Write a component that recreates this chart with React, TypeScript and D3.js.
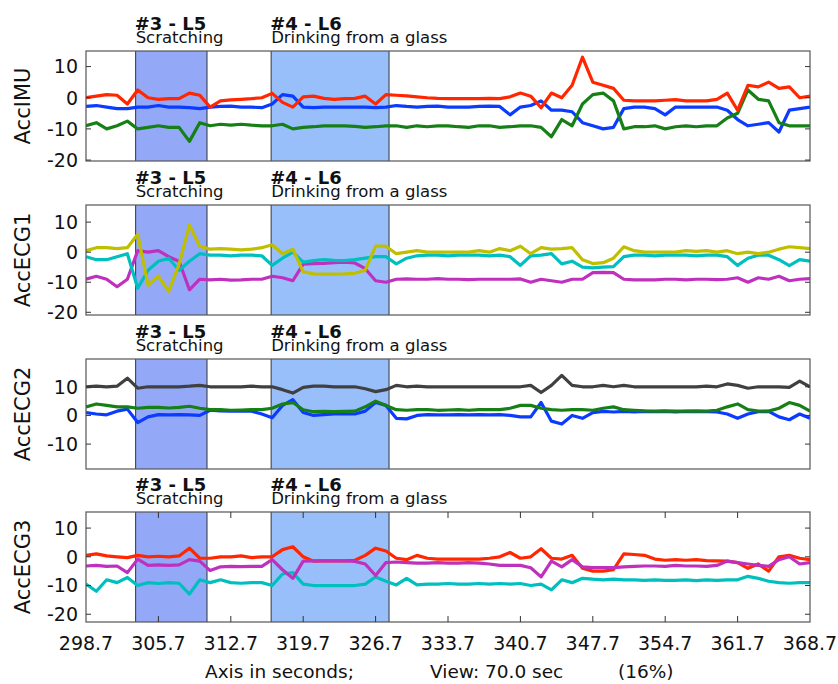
import React from 'react';
import * as d3 from 'd3';

// sampled once per second from 298.7 s to 368.7 s
const t0 = 298.7;
const viewSec = 70;

const imuRed = [0, 0.5, 1, 0.8, -2, 2.5, 0, -0.5, -0.3, -0.3, 1.5, 0.8, -3, -1, -0.7, -0.5, -0.3, 0, 1.4, -1.5, -3, 0.3, 0.5, -0.2, -0.5, -0.3, -0.2, 0.5, -2, 1, 0.8, 0.6, 0.3, 0, -0.2, -0.3, -0.3, -0.3, -0.3, -0.2, -0.3, 0.3, 1.5, 0.5, -3.2, 1.5, 0, 4, 13, 5, 4, 3, -0.8, -1, -1, -1, -0.8, -0.6, -1, -1, -1, -0.5, 1.5, -4, 4, 3.5, 5, 3, 3.5, 0, 0.5];
const imuBlue = [-2.8, -2.5, -3, -3.5, -3.5, -3, -3, -2.5, -3, -3, -3.2, -3.5, -3, -2.8, -2.7, -3, -3, -3.2, -2, 1, 0.5, -3, -3.2, -3, -3, -3, -3, -3, -3.2, -3, -2.5, -2.8, -3, -2.8, -2.7, -3, -3, -3, -2.8, -2.7, -2.8, -5.5, -3, -2.5, -1, -4, -4, -4.5, -8, -9, -10, -9.5, -3.5, -3, -3, -3.5, -5.5, -3, -3, -3, -3, -3, -4, -7, -9, -8.5, -8, -11, -4, -3.5, -3];
const imuGreen = [-9, -8, -10, -9, -7.5, -10, -9.5, -9, -9.5, -9.5, -14, -8, -9, -8.5, -8.8, -8.5, -8.8, -9, -9, -8.5, -10, -9.5, -9.3, -9, -9, -9, -9.2, -9.5, -9.3, -9, -9, -9.5, -9, -9.3, -9, -9, -9.3, -9.5, -9, -9, -9.5, -9.3, -9, -9, -9.5, -12.5, -7, -9, -2, 1, 1.5, -1, -10, -9.3, -9.3, -9, -10, -9.3, -9, -9.3, -9, -9, -6.5, -5, 2.5, -0.5, -1, -8, -9, -9, -9];

const ecg1Yellow = [0.5, 1.5, 1.5, 1.2, 1.5, 6, -11, -8, -13, -4, 9, 2, 1, 1.2, 1, 0.8, 1, 1.5, 2.5, -0.5, 1, -6.5, -7.2, -7.3, -7.3, -7.2, -7, -6, 2, 2, -0.5, 0, 0.5, 0, 0, 0, 0, 0, 0.5, 0, 1.2, 0.5, 2, -0.5, 1.5, 1, 1.2, 1.5, -2.5, -3.8, -3.5, -2, 1.8, 0.5, 0, 0, 0, 0, 0.5, 0.3, 0.5, 0, 0.5, -0.5, 0, -0.5, 0, 1, 1.8, 1.5, 1.2];
const ecg1Cyan = [-1.5, -2.5, -2.5, -1.5, -0.5, -12, -6, -3, -2, -6, -3, -0.5, -1, -1, -1.2, -1, -1, -1.2, -4.4, -2, 0, -3.3, -2.8, -2.5, -2.7, -2.8, -2.5, -2, -1.5, -1.5, -3.9, -2, -1.2, -1, -1, -1.2, -1, -1, -1, -1.2, -1, -1.5, -4.4, -1.2, -1, -0.5, -3.9, -3, -5, -5.2, -5, -4.8, -1.5, -1, -1, -1.2, -1, -1, -1, -1.2, -1, -1, -1.5, -4.4, -2, -1, -1, -2.5, -4.5, -2.5, -3];
const ecg1Magenta = [-9, -8, -9, -11.5, -9, 0.5, 0, 0.5, -1.5, -3, -12.5, -9, -9.2, -9, -9.3, -9.2, -9, -9, -8, -8.5, -9.5, -4, -3.8, -3.7, -3.5, -3.3, -3.6, -5.5, -9.5, -10, -9, -8.9, -9, -9, -8.8, -9, -9, -9.1, -9, -9, -9, -9, -8.9, -10, -9, -9.5, -10, -9, -9, -6.8, -6.7, -6.8, -9, -9.2, -9.2, -9.2, -9, -9, -9.2, -9, -9, -9.1, -9, -8.5, -10, -8.5, -9, -8, -9.5, -9, -8.8];

const ecg2Gray = [10, 10.2, 10, 10.2, 13, 9.5, 10, 10, 10, 10, 10.2, 10.5, 10, 10, 10, 10, 10.2, 10, 10, 9, 7.8, 9.8, 10.2, 10.2, 10, 10, 10, 9.3, 8.3, 9, 10.5, 10, 10.2, 10, 10, 10, 10, 10, 10, 10, 10, 10, 10, 10.5, 8, 10.5, 14, 10.5, 10, 10, 10.5, 10, 10.5, 10, 10, 10, 10, 10, 10, 10, 10.2, 10, 11, 10.5, 9.5, 10, 10, 10, 9.8, 12, 10];
const ecg2Blue = [1, 0.5, 0.2, 1.5, 2.2, -2.5, -0.5, 0.3, 0.2, 0.3, 0.2, 0, 1.8, 1.6, 1.5, 1.6, 1.5, 0.5, -0.8, 3.5, 5.5, 1, 0, 0.3, 0.5, 0.5, 0.5, 1.5, 4.5, 3.5, -1, -1.2, 0, 0.3, 0.2, 0.2, 0.3, 0.2, 0.3, 0.2, 0.3, 0, -0.5, -0.5, 4.5, -2, -3, 0, -1, 1, 1.4, 1.2, 1.4, 1.2, 1.4, 1.3, 1.4, 1.2, 1.4, 1.3, 1.3, 1.2, 0.5, -1, 0.5, 1.3, 1.4, -0.5, -1.5, 0.5, -1];
const ecg2Green = [3, 4, 3.5, 3, 3, 2.5, 2.8, 2.8, 2.6, 2.8, 3.2, 2.5, 2, 2, 1.8, 1.9, 2, 2, 2.5, 4, 4.5, 2, 1.3, 1.4, 1.3, 1.4, 1.5, 3, 5, 3.5, 2, 1.8, 2, 2, 1.8, 1.9, 2, 1.8, 2, 2, 2, 2.5, 3.5, 3.5, 2.5, 2, 1.8, 2, 2, 1.8, 2.5, 3, 2, 1.8, 1.6, 1.5, 1.6, 1.5, 1.5, 1.6, 1.5, 1.8, 3, 4, 2, 1.5, 1.5, 2.5, 4.5, 3.5, 1.5];

const ecg3Cyan = [-9.5, -12, -8, -9, -7.2, -10, -9, -9.3, -9, -9.2, -13, -8, -9, -8, -9, -9.2, -9, -9, -10, -6, -5.5, -9.5, -10, -10, -10, -10, -10, -9.5, -7, -8.5, -9.8, -7.5, -9.8, -9.5, -9.5, -9.3, -9.5, -9.5, -9.3, -9.5, -9.3, -9.5, -9.3, -10, -9.5, -11.5, -8, -9, -7.5, -7.8, -8, -7.8, -8, -8, -8.2, -8, -8.2, -8.2, -8, -8.3, -8, -8.2, -8, -8, -6.8, -7.5, -8.5, -9, -9.2, -9, -9];
const ecg3Red = [0.5, 1, 0.3, 0, -0.3, 0.5, 0, 0.2, 0, 0.3, 3, -0.5, -0.5, 0, 0, 0.3, -0.3, 0, 0, 2.5, 3.5, 0, -1.5, -1.4, -1.4, -1.4, -1.2, 0.5, 3, 2, -0.5, -1, 0.5, -0.5, -0.8, -0.8, -0.8, -0.8, -0.8, -0.5, 0, 1.5, -0.5, 0, 2.8, -0.5, -0.8, 0.5, -4, -5, -5, -4.5, 1, 0.8, 0.5, -0.8, -1.2, -1, -1.2, -1, -1.3, -1.4, -1.5, -2, -4, -2.5, -5, 0, 0.5, -0.5, -1];
const ecg3Magenta = [-3.2, -3, -3.3, -3.2, -5.5, -0.8, -3, -2.8, -3, -2.8, -1, -1.5, -4.8, -3.5, -3.3, -3.4, -3.3, -3.3, -1, -4.5, -7.5, -1.5, -1.4, -1.4, -1.4, -1.4, -1.6, -2.5, -6.5, -2, -1.8, -2, -2.2, -2.2, -2, -2.2, -2.2, -2, -2.2, -2.5, -3, -3, -3, -3.8, -7, -1.5, -3.5, -1, -3.5, -3.8, -3.8, -3.8, -3.5, -3.3, -3.2, -3.2, -3.3, -3, -3.2, -3.2, -3.3, -3, -1.5, -2, -2.5, -3, -3.3, -1, 0, -2.5, -2];

// labelled segments
const segStart = [303.5, 316.6];
const segEnd = [310.4, 328.0];
const segTitle = ['#3 - L5', '#4 - L6'];
const segName = ['Scratching', 'Drinking from a glass'];
const segFill = ['#93a9f8', '#99bffa'];

const xTickLabels = ['298.7', '305.7', '312.7', '319.7', '326.7', '333.7', '340.7', '347.7', '354.7', '361.7', '368.7'];

const panels = [
  { name: 'AccIMU', top: 51, domain: [-20.3, 15], ticks: [10, 0, -10, -20],
    series: [{ v: imuBlue, c: '#0b3bff' }, { v: imuGreen, c: '#168016' }, { v: imuRed, c: '#ff2600' }] },
  { name: 'AccECG1', top: 205, domain: [-20.9, 15.7], ticks: [10, 0, -10, -20],
    series: [{ v: ecg1Magenta, c: '#bf30bf' }, { v: ecg1Cyan, c: '#00bfbf' }, { v: ecg1Yellow, c: '#bfbf00' }] },
  { name: 'AccECG2', top: 359, domain: [-18.7, 19.7], ticks: [10, 0, -10],
    series: [{ v: ecg2Gray, c: '#404040' }, { v: ecg2Blue, c: '#0b3bff' }, { v: ecg2Green, c: '#168016' }] },
  { name: 'AccECG3', top: 512, domain: [-22.7, 15.6], ticks: [10, 0, -10, -20],
    series: [{ v: ecg3Cyan, c: '#00bfbf' }, { v: ecg3Red, c: '#ff2600' }, { v: ecg3Magenta, c: '#bf30bf' }] },
];

const W = 838;
const H = 684;
const left = 86;
const right = 810;
const ph = 110;
const font = '"DejaVu Sans", Verdana, sans-serif';

const x = d3.scaleLinear().domain([t0, t0 + viewSec]).range([left, right]);

const Panel = ({ p, last }: any) => {
  const y = d3.scaleLinear().domain(p.domain).range([p.top + ph, p.top]);
  const line = d3.line<number>().x((d, i) => x(t0 + i)).y(d => y(d));
  const mid = p.top + ph / 2;
  return (
    <g>
      {segStart.map((s, i) => (
        <g key={i}>
          <rect x={x(s)} y={p.top} width={x(segEnd[i]) - x(s)} height={ph} fill={segFill[i]} />
          <line x1={x(s)} x2={x(s)} y1={p.top} y2={p.top + ph} stroke="#333" />
          <line x1={x(segEnd[i])} x2={x(segEnd[i])} y1={p.top} y2={p.top + ph} stroke="#333" />
          <text x={x(s) - 1} y={p.top - 21} fontFamily={font} fontSize={18} fontWeight="bold" fill="#111">{segTitle[i]}</text>
          <text x={x(s)} y={p.top - 8.5} fontFamily={font} fontSize={16.5} fill="#111">{segName[i]}</text>
        </g>
      ))}
      <g clipPath={`url(#clip${p.name})`}>
        {p.series.map((s: any, i: number) => (
          <path key={i} d={line(s.v) || ''} fill="none" stroke={s.c} strokeWidth={3.2} strokeLinejoin="round" />
        ))}
      </g>
      <clipPath id={`clip${p.name}`}>
        <rect x={left} y={p.top} width={right - left} height={ph} />
      </clipPath>
      <rect x={left} y={p.top} width={right - left} height={ph} fill="none" stroke="#555" strokeWidth={1.2} />
      {p.ticks.map((t: number) => (
        <g key={t}>
          <line x1={left} x2={left + 5} y1={y(t)} y2={y(t)} stroke="#333" />
          <line x1={right - 5} x2={right} y1={y(t)} y2={y(t)} stroke="#333" />
          <text x={left - 8} y={y(t)} dy="0.36em" textAnchor="end" fontFamily={font} fontSize={19} fill="#111">{t}</text>
        </g>
      ))}
      <text transform={`translate(30,${mid}) rotate(-90)`} textAnchor="middle" fontFamily={font} fontSize={21} fill="#111">{p.name}</text>
      {last && xTickLabels.map((lab, i) => {
        const xv = x(+lab);
        return (
          <g key={lab}>
            {i > 0 && i < xTickLabels.length - 1 && (
              <>
                <line x1={xv} x2={xv} y1={p.top} y2={p.top + 6} stroke="#333" />
                <line x1={xv} x2={xv} y1={p.top + ph - 6} y2={p.top + ph} stroke="#333" />
              </>
            )}
            <text x={xv} y={p.top + ph + 28} textAnchor="middle" fontFamily={font} fontSize={19} fill="#111">{lab}</text>
          </g>
        );
      })}
    </g>
  );
};

export default function App() {
  return (
    <svg width={W} height={H} style={{ position: 'absolute', left: 0, top: 0, background: '#fff' }}>
      <rect width={W} height={H} fill="#fff" />
      {panels.map((p, i) => <Panel key={p.name} p={p} last={i === panels.length - 1} />)}
      <text x={205} y={678} fontFamily={font} fontSize={18.5} fill="#111">Axis in seconds;</text>
      <text x={430} y={678} fontFamily={font} fontSize={18.5} fill="#111">View: {viewSec.toFixed(1)} sec</text>
      <text x={618} y={678} fontFamily={font} fontSize={18.5} fill="#111">(16%)</text>
    </svg>
  );
}
